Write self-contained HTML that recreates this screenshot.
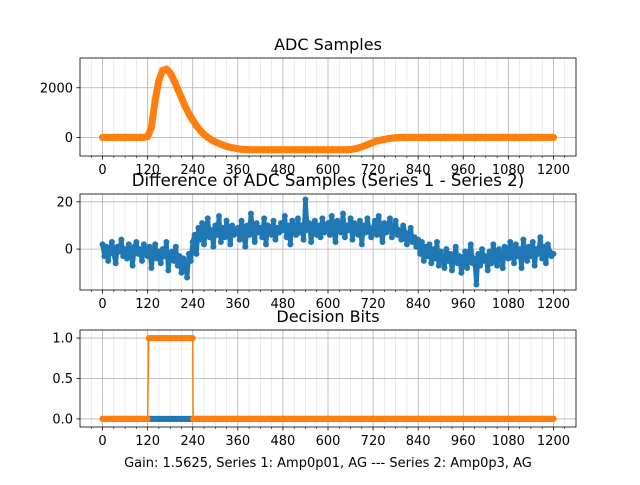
<!DOCTYPE html>
<html><head><meta charset="utf-8"><style>
html,body{margin:0;padding:0;background:#fff}
svg text{font-family:"DejaVu Sans","Liberation Sans",sans-serif;fill:#000}
</style></head><body>
<svg id="chart" width="640" height="480" xmlns="http://www.w3.org/2000/svg"></svg>
<script>
const xTicks=[0,120,240,360,480,600,720,840,960,1080,1200];
const adcX=[];for(let i=0;i<=120;i++)adcX.push(i*10);
const adcValues=[0,0,0,0,0,0,0,0,0,0,0,0,
30,400,1500,2300,2700,2750,2600,2300,1950,1600,1250,950,700,470,280,120,0,-100,-180,-250,-310,-360,-400,-430,-460,-480,-490,
-500,-500,-500,-500,-500,-500,-500,-500,-500,-500,-500,-500,-500,-500,-500,-500,-500,-500,-500,-500,-500,-500,-500,-500,-500,-500,-500,
-490,-470,-430,-380,-320,-260,-200,-150,-110,-80,-50,-30,-15,-5,
0,0,0,0,0,0,0,0,0,0,0,0,0,0,0,0,0,0,0,0,0,0,0,0,0,0,0,0,0,0,0,0,0,0,0,0,0,0,0,0,0];
const adcTicks=[0,2000];
const adcTickLabels=["0","2000"];
const diffX=[];for(let i=0;i<=240;i++)diffX.push(i*5);
const diffValues=[2,-3,1,-5,0,3,-2,-6,1,-1,4,-3,0,-4,2,-1,-7,1,3,-2,0,-5,2,-1,
-3,1,-8,-2,2,-4,-1,-6,0,-3,3,-9,-2,-1,-5,1,-7,-3,-10,-4,-6,-12,-2,-5,
3,6,-2,9,4,11,2,7,13,5,8,1,10,6,14,3,9,5,12,7,2,10,6,8,
9,4,12,7,1,10,6,15,8,3,11,7,9,5,13,2,10,8,6,12,4,9,7,11,
8,14,5,10,2,12,9,6,13,7,10,4,21,8,11,3,9,12,6,10,5,13,7,9,
11,6,14,8,3,12,9,7,15,5,10,8,13,4,11,9,6,12,2,10,7,13,8,5,
9,12,6,14,8,3,11,7,10,13,5,9,12,6,8,4,10,7,2,6,9,3,5,1,
4,-2,3,-5,1,-3,2,-6,0,-4,3,-7,-1,-3,-8,0,-5,-2,-9,-4,1,-6,-3,-10,
-5,-1,-8,-3,2,-6,-4,-15,-2,-7,0,-5,-3,-9,-1,-6,2,-4,-7,0,-3,-8,1,-2,
-4,3,-1,-6,2,-3,0,-8,4,-2,-5,1,-3,3,-7,0,-2,5,-4,1,-6,2,-1,-3,-2];
const diffTicks=[0,20];
const diffTickLabels=["0","20"];
const bitsX=[0,10,20,30,40,50,60,70,80,90,100,110,120,123,130,140,150,160,170,180,190,200,210,220,230,240,241,250];
const bits2Head=[0,0,0,0,0,0,0,0,0,0,0,0,0,1,1,1,1,1,1,1,1,1,1,1,1,1,0,0];
const bits1=[];const bits2=[];
for(let i=0;i<bitsX.length;i++){bits1.push(0);bits2.push(bits2Head[i]);}
for(let x=260;x<=1200;x+=10){bitsX.push(x);bits1.push(0);bits2.push(0);}
const bitsTicks=[0,0.5,1];const bitsTickLabels=["0.0","0.5","1.0"];

const NS="http://www.w3.org/2000/svg";
const svg=document.getElementById('chart');
function el(t,a,p){const e=document.createElementNS(NS,t);for(const k in a)e.setAttribute(k,a[k]);(p||svg).appendChild(e);return e;}
const L=80,R=576;
const xs=v=>L+(v+60)/1320*(R-L);
function panel(name,top,bot,ymin,ymax,ticks,labels,title,series,tfs){
  const g=el('g',{});
  
  
  const ys=v=>bot-(v-ymin)/(ymax-ymin)*(bot-top);
  for(let x=-30;x<=1230;x+=30){if(x%120===0)continue;
    const l=el('line',{x1:xs(x),x2:xs(x),y1:top,y2:bot,stroke:'#dedede','stroke-width':0.6},g);
    
    el('line',{x1:xs(x),x2:xs(x),y1:bot,y2:bot+2,stroke:'#000','stroke-width':0.6},g);}
  xTicks.forEach(t=>{
    const l=el('line',{x1:xs(t),x2:xs(t),y1:top,y2:bot,stroke:'#b0b0b0','stroke-width':0.8},g);
    
    el('line',{x1:xs(t),x2:xs(t),y1:bot,y2:bot+3.5,stroke:'#000','stroke-width':0.8},g);
    const tx=el('text',{x:xs(t),y:bot+18,'font-size':'13','text-anchor':'middle'},g);tx.textContent=t;
    });
  ticks.forEach((t,i)=>{const y=ys(t);
    el('line',{x1:L,x2:R,y1:y,y2:y,stroke:'#b0b0b0','stroke-width':0.8},g);
    el('line',{x1:L-3.5,x2:L,y1:y,y2:y,stroke:'#000','stroke-width':0.8},g);
    const tx=el('text',{x:L-7,y:y+4.5,'font-size':'13','text-anchor':'end'},g);tx.textContent=labels[i];
    });
  series.forEach(s=>{
    const P=s.x.map((x,i)=>[xs(x),ys(s.y[i])]);
    const pl=el('polyline',{points:P.map(p=>p[0].toFixed(1)+','+p[1].toFixed(1)).join(' '),fill:'none',stroke:s.c,'stroke-width':1.5,'stroke-linejoin':'round'},g);
    
    for(let i=0;i<P.length-1;i++){
      if(s.flatOnly&&Math.abs(P[i][1]-P[i+1][1])>1)continue;
      el('line',{x1:P[i][0],y1:P[i][1],x2:P[i+1][0],y2:P[i+1][1],stroke:s.c,'stroke-width':s.band,'stroke-linecap':'round'},g);}
    P.forEach(p=>el('circle',{cx:p[0],cy:p[1],r:s.r,fill:s.c},g));
  });
  const fr=el('rect',{x:L,y:top,width:R-L,height:bot-top,fill:'none',stroke:'#000','stroke-width':0.8},g);
  
  const tt=el('text',{x:(L+R)/2,y:top-8,'font-size':tfs||'16','text-anchor':'middle'},g);tt.textContent=title;
  
}
panel('adc-samples-panel',58,156,-750,3200,adcTicks,adcTickLabels,'ADC Samples',
 [{x:adcX,y:adcValues.map(v=>v+10),c:'#1f77b4',r:3,band:6,n:'series1'},{x:adcX,y:adcValues,c:'#ff7f0e',r:3.5,band:7,n:'series2'}]);
panel('difference-panel',194,290,-17.3,23.3,diffTicks,diffTickLabels,'Difference of ADC Samples (Series 1 - Series 2)',
 [{x:diffX,y:diffValues,c:'#1f77b4',r:3,band:4.5,n:'difference'}],'16.6');
panel('decision-bits-panel',330,427,-0.1,1.1,bitsTicks,bitsTickLabels,'Decision Bits',
 [{x:bitsX,y:bits1,c:'#1f77b4',r:3,band:6,flatOnly:true,n:'bits-series1'},{x:bitsX,y:bits2,c:'#ff7f0e',r:3,band:6,flatOnly:true,n:'bits-series2'}]);
const xl=el('text',{x:328,y:467,'font-size':'13','text-anchor':'middle'});
xl.textContent='Gain: 1.5625, Series 1: Amp0p01, AG --- Series 2: Amp0p3, AG';

</script>
</body></html>
